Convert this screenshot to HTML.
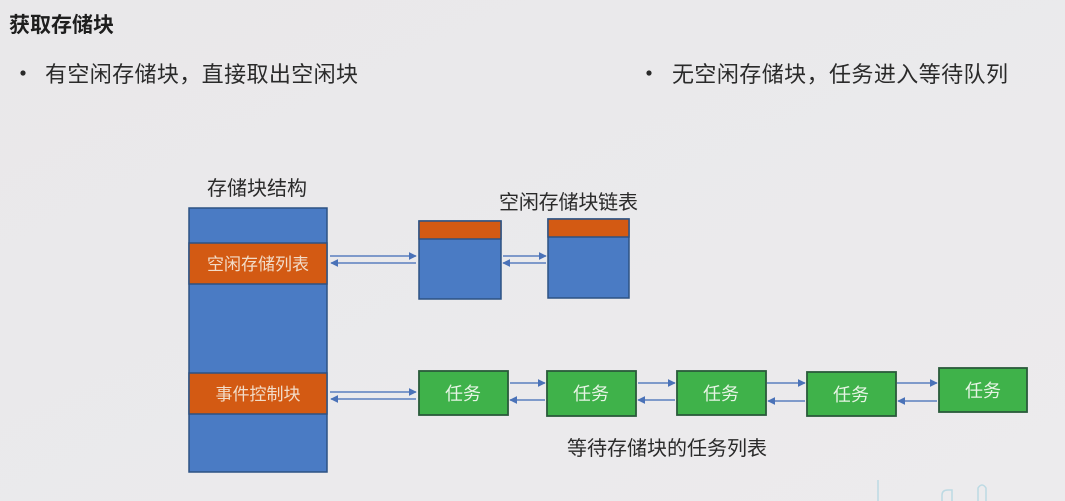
<!DOCTYPE html>
<html><head><meta charset="utf-8"><style>
html,body{margin:0;padding:0;}
body{width:1065px;height:501px;overflow:hidden;background:#ebeaec;}
svg{display:block;}
text{font-family:"Liberation Sans","Noto Sans CJK SC",sans-serif;}
</style></head><body>
<svg width="1065" height="501" viewBox="0 0 1065 501" xmlns="http://www.w3.org/2000/svg">
<defs>
<linearGradient id="bg" x1="0" y1="0" x2="1" y2="1">
<stop offset="0" stop-color="#e9e8ea"/><stop offset="1" stop-color="#ecebed"/>
</linearGradient>
<marker id="ah" viewBox="0 0 10 10" refX="9" refY="5" markerWidth="8" markerHeight="8" markerUnits="userSpaceOnUse" orient="auto">
<path d="M0,0 L10,5 L0,10 z" fill="#4a72b8"/>
</marker>
</defs>
<rect width="1065" height="501" fill="url(#bg)"/>

<!-- header text -->
<text x="9" y="32" font-size="21" font-weight="bold" fill="#1e1e1e">获取存储块</text>
<circle cx="23" cy="73" r="2.6" fill="#2a2a2a"/>
<text x="45" y="82" font-size="22" fill="#2a2a2a" textLength="313">有空闲存储块，直接取出空闲块</text>
<circle cx="649" cy="73" r="2.6" fill="#2a2a2a"/>
<text x="672" y="82" font-size="22" fill="#2a2a2a" textLength="336">无空闲存储块，任务进入等待队列</text>

<!-- labels -->
<text x="207" y="195" font-size="20" fill="#2a2a2a" textLength="100">存储块结构</text>
<text x="499" y="209" font-size="20" fill="#2a2a2a" textLength="139">空闲存储块链表</text>
<text x="567" y="455" font-size="20" fill="#2a2a2a" textLength="200">等待存储块的任务列表</text>

<!-- main structure block -->
<rect x="189" y="208" width="138" height="264" fill="#4a7bc4" stroke="#2d5283" stroke-width="1.5"/>
<rect x="189" y="243" width="138" height="41" fill="#d35a13" stroke="#2d5283" stroke-width="1.5"/>
<text x="258" y="270" font-size="17" fill="#f2dcc8" text-anchor="middle">空闲存储列表</text>
<rect x="189" y="373" width="138" height="41" fill="#d35a13" stroke="#2d5283" stroke-width="1.5"/>
<text x="258" y="400" font-size="17" fill="#f2dcc8" text-anchor="middle">事件控制块</text>

<!-- free blocks -->
<rect x="419" y="221" width="82" height="78" fill="#4a7bc4" stroke="#2d5283" stroke-width="1.5"/>
<rect x="419" y="221" width="82" height="18" fill="#d35a13" stroke="#2d5283" stroke-width="1.5"/>
<rect x="548" y="219" width="81" height="79" fill="#4a7bc4" stroke="#2d5283" stroke-width="1.5"/>
<rect x="548" y="219" width="81" height="18" fill="#d35a13" stroke="#2d5283" stroke-width="1.5"/>

<g stroke="#5b7fbf" stroke-width="1.4" fill="none">
<line x1="330" y1="256" x2="416" y2="256" marker-end="url(#ah)"/>
<line x1="416" y1="263" x2="331" y2="263" marker-end="url(#ah)"/>
<line x1="503" y1="256" x2="546" y2="256" marker-end="url(#ah)"/>
<line x1="546" y1="263" x2="503" y2="263" marker-end="url(#ah)"/>

<line x1="330" y1="392" x2="416" y2="392" marker-end="url(#ah)"/>
<line x1="416" y1="399" x2="331" y2="399" marker-end="url(#ah)"/>
<line x1="510" y1="383" x2="545" y2="383" marker-end="url(#ah)"/>
<line x1="545" y1="400" x2="510" y2="400" marker-end="url(#ah)"/>
<line x1="638" y1="383" x2="675" y2="383" marker-end="url(#ah)"/>
<line x1="675" y1="400" x2="638" y2="400" marker-end="url(#ah)"/>
<line x1="767" y1="383" x2="805" y2="383" marker-end="url(#ah)"/>
<line x1="805" y1="401" x2="768" y2="401" marker-end="url(#ah)"/>
<line x1="897" y1="383" x2="937" y2="383" marker-end="url(#ah)"/>
<line x1="937" y1="401" x2="898" y2="401" marker-end="url(#ah)"/>
</g>

<!-- task boxes -->
<g stroke="#2a5a3a" stroke-width="1.8" fill="#3fb24a">
<rect x="419" y="371" width="89" height="44"/>
<rect x="547" y="371" width="89" height="45"/>
<rect x="677" y="371" width="89" height="44"/>
<rect x="807" y="372" width="89" height="44"/>
<rect x="939" y="368" width="88" height="44"/>
</g>
<g font-size="18" fill="#e6f4e4" text-anchor="middle">
<text x="463" y="400">任务</text>
<text x="591" y="400">任务</text>
<text x="721" y="400">任务</text>
<text x="851" y="401">任务</text>
<text x="983" y="397">任务</text>
</g>

<!-- faint watermark -->
<g stroke="#a9d3e0" stroke-width="1.5" fill="none" opacity="0.7">
<line x1="878" y1="480" x2="878" y2="501"/>
<path d="M942 501 V495 Q942 490 948 490 H952 V501"/>
<path d="M978 501 V488 Q982 482 986 488 V501"/>
</g>
</svg>
</body></html>
